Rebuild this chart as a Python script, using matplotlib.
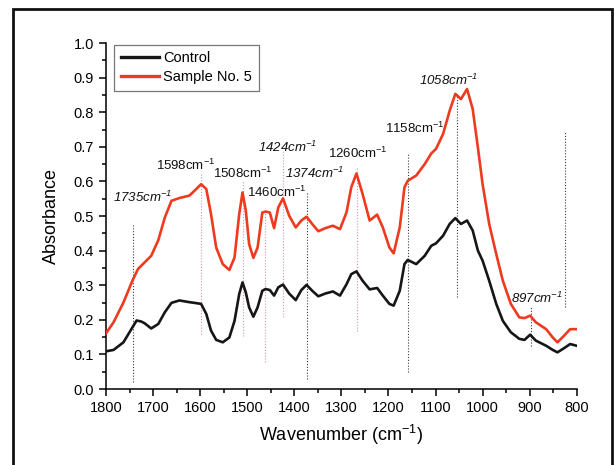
"""FTIR absorbance spectra: control vs sample no. 5, with band markers."""

import matplotlib

matplotlib.use("Agg")
import matplotlib.pyplot as plt
import matplotlib.ticker as mticker
from matplotlib.patches import Rectangle

# --- data ----------------------------------------------------------------
control_wn = [1800, 1784, 1763, 1744, 1735, 1725, 1718, 1704, 1689, 1675, 1661,
              1644, 1623, 1612, 1598, 1587, 1577, 1566, 1552, 1538, 1527, 1517,
              1510, 1503, 1496, 1487, 1478, 1468, 1461, 1452, 1443, 1434, 1424,
              1411, 1397, 1385, 1374, 1362, 1349, 1334, 1318, 1303, 1289, 1279,
              1268, 1255, 1240, 1224, 1212, 1198, 1189, 1176, 1166, 1159, 1141,
              1123, 1109, 1099, 1084, 1070, 1058, 1046, 1033, 1021, 1010, 1000,
              986, 971, 957, 940, 922, 911, 899, 887, 865, 851, 841, 827, 814, 800]
control_abs = [0.109, 0.113, 0.135, 0.178, 0.198, 0.195, 0.190, 0.175, 0.188,
               0.222, 0.249, 0.256, 0.251, 0.249, 0.246, 0.217, 0.169, 0.142,
               0.135, 0.149, 0.197, 0.275, 0.308, 0.279, 0.236, 0.209, 0.236,
               0.284, 0.289, 0.286, 0.270, 0.294, 0.302, 0.276, 0.257, 0.286,
               0.301, 0.284, 0.268, 0.276, 0.282, 0.270, 0.303, 0.332, 0.340,
               0.313, 0.288, 0.292, 0.270, 0.246, 0.241, 0.284, 0.361, 0.373,
               0.361, 0.385, 0.414, 0.421, 0.443, 0.477, 0.494, 0.477, 0.487,
               0.458, 0.400, 0.371, 0.313, 0.246, 0.197, 0.164, 0.145, 0.142,
               0.157, 0.140, 0.125, 0.113, 0.106, 0.118, 0.130, 0.125]

sample_wn = [1800, 1784, 1763, 1744, 1732, 1718, 1704, 1689, 1675, 1661, 1644,
             1623, 1612, 1598, 1587, 1577, 1566, 1552, 1538, 1527, 1517, 1510,
             1503, 1496, 1487, 1478, 1468, 1461, 1452, 1443, 1434, 1424, 1411,
             1397, 1385, 1374, 1362, 1349, 1334, 1318, 1303, 1289, 1279, 1268,
             1255, 1240, 1224, 1212, 1198, 1189, 1176, 1166, 1159, 1141, 1123,
             1109, 1099, 1084, 1070, 1058, 1046, 1033, 1021, 1010, 1000, 986,
             971, 957, 940, 922, 911, 899, 887, 865, 851, 841, 827, 814, 800]
sample_abs = [0.161, 0.193, 0.250, 0.313, 0.347, 0.366, 0.385, 0.430, 0.496,
              0.544, 0.552, 0.559, 0.573, 0.592, 0.578, 0.506, 0.409, 0.361,
              0.344, 0.380, 0.506, 0.568, 0.515, 0.419, 0.379, 0.409, 0.510,
              0.513, 0.510, 0.465, 0.525, 0.551, 0.501, 0.467, 0.487, 0.498,
              0.477, 0.456, 0.465, 0.472, 0.462, 0.511, 0.583, 0.623, 0.564,
              0.487, 0.504, 0.467, 0.409, 0.392, 0.467, 0.583, 0.602, 0.617,
              0.650, 0.681, 0.694, 0.737, 0.804, 0.853, 0.838, 0.867, 0.809,
              0.698, 0.592, 0.477, 0.390, 0.313, 0.246, 0.207, 0.205, 0.212,
              0.193, 0.173, 0.149, 0.135, 0.154, 0.173, 0.173]

# band marker lines: position, lower / upper absorbance, colour key
marker_wn = [1743, 1598, 1508, 1463, 1425, 1373, 1267, 1158, 1055, 897, 824]
marker_lo = [0.019, 0.159, 0.154, 0.077, 0.207, 0.029, 0.169, 0.048, 0.265, 0.125, 0.236]
marker_hi = [0.475, 0.626, 0.602, 0.515, 0.689, 0.568, 0.641, 0.679, 0.857, 0.236, 0.742]
marker_kind = ["k", "p", "p", "p", "p", "k", "p", "k", "k", "k", "k"]

# band labels
label_num = ["1735", "1598", "1508", "1460", "1424", "1374", "1260", "1158", "1058", "897"]
label_wn = [1723, 1630, 1509, 1437, 1414, 1358, 1265, 1144, 1072, 885]
label_abs = [0.553, 0.645, 0.622, 0.567, 0.697, 0.622, 0.680, 0.752, 0.891, 0.261]
label_italic = [True, False, False, False, True, True, False, False, True, True]

RED = "#EE3A1E"
BLACK = "#161616"
MARKER_COLORS = {"k": "#3a3a3a", "p": "#E58AB4"}

plt.rcParams["font.family"] = ["Liberation Sans", "DejaVu Sans"]
plt.rcParams["mathtext.default"] = "regular"


def main() -> int:
    fig = plt.figure(figsize=(6.15, 4.65), dpi=100)
    ax = fig.add_axes([0.1724, 0.1634, 0.7654, 0.7441])

    # outer frame (bottom edge is cut off in the original)
    fig.patches.append(Rectangle((13 / 615, -0.05), 599 / 615, 1.05 - 9 / 465,
                                 transform=fig.transFigure, fill=False,
                                 edgecolor="#111111", linewidth=2.0))

    for wn, lo, hi, kind in zip(marker_wn, marker_lo, marker_hi, marker_kind):
        ax.plot([wn, wn], [lo, hi], linestyle=(0, (1, 1.6)), linewidth=0.8,
                color=MARKER_COLORS[kind], zorder=1)

    ax.plot(control_wn, control_abs, color=BLACK, linewidth=1.9, label="Control", zorder=3)
    ax.plot(sample_wn, sample_abs, color=RED, linewidth=1.9, label="Sample No. 5", zorder=3)

    for num, wn, a, it in zip(label_num, label_wn, label_abs, label_italic):
        ax.text(wn, a, f"{num}cm$^{{-1}}$", ha="center", va="center", fontsize=9.5,
                style="italic" if it else "normal", color="#111111")

    ax.set_xlim(1800, 800)
    ax.set_ylim(0.0, 1.0)
    ax.xaxis.set_major_locator(mticker.MultipleLocator(100))
    ax.xaxis.set_minor_locator(mticker.MultipleLocator(50))
    ax.yaxis.set_major_locator(mticker.MultipleLocator(0.1))
    ax.yaxis.set_minor_locator(mticker.MultipleLocator(0.05))
    ax.yaxis.set_major_formatter(mticker.FormatStrFormatter("%.1f"))

    for side in ("top", "right"):
        ax.spines[side].set_visible(False)
    for side in ("left", "bottom"):
        ax.spines[side].set_linewidth(1.1)
    ax.tick_params(which="major", direction="out", length=5, width=1.1, labelsize=10.5)
    ax.tick_params(which="minor", direction="out", length=3, width=1.1)

    ax.set_xlabel("Wavenumber (cm$^{-1}$)", fontsize=13, labelpad=6)
    ax.set_ylabel("Absorbance", fontsize=13, labelpad=10)

    leg = ax.legend(loc="upper left", bbox_to_anchor=(0.018, 0.995), fancybox=False,
                    edgecolor="#555555", fontsize=10.5, handlelength=2.6,
                    borderpad=0.45, labelspacing=0.35, handletextpad=0.3,
                    borderaxespad=0.0)
    leg.get_frame().set_linewidth(0.9)
    for line in leg.get_lines():
        line.set_linewidth(2.4)

    fig.savefig("out.png", dpi=100)
    plt.close(fig)
    return 0


if __name__ == "__main__":
    raise SystemExit(main())
